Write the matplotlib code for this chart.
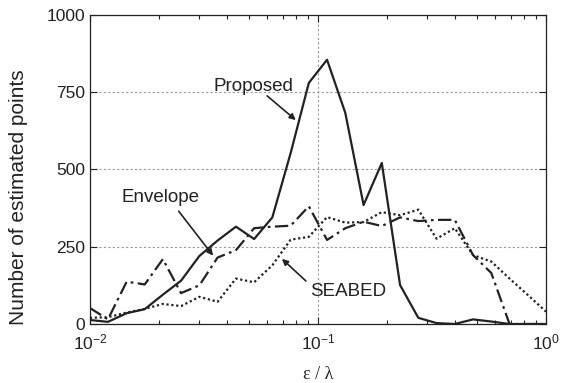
import matplotlib
matplotlib.use("Agg")
import matplotlib.pyplot as plt
from matplotlib.ticker import LogLocator, FixedLocator

plt.rcParams['font.family'] = ['Liberation Sans', 'DejaVu Sans']
plt.rcParams['mathtext.fontset'] = 'custom'
plt.rcParams['mathtext.rm'] = 'Liberation Sans'
plt.rcParams['mathtext.default'] = 'regular'

# eps / lambda sample points (evenly spaced in log)
eps = [0.0100, 0.0120, 0.0145, 0.0174, 0.0209, 0.0251, 0.0302, 0.0363, 0.0437,
       0.0525, 0.0631, 0.0759, 0.0912, 0.1096, 0.1318, 0.1585, 0.1905, 0.2291,
       0.2754, 0.3311, 0.3981, 0.4786, 0.5754, 0.6918, 0.8318, 1.0000]

proposed = [13, 7, 35, 48, 95, 140, 220, 270, 315, 275, 345, 553, 780,
            855, 683, 385, 521, 126, 20, 3, 0, 15, 8, 0, 0, 0]
envelope = [52, 15, 137, 128, 210, 100, 125, 215, 239, 310, 315, 318, 381,
            272, 310, 331, 317, 345, 333, 337, 337, 223, 165, 0, 0, 0]
seabed = [20, 22, 37, 49, 65, 58, 88, 72, 147, 135, 190, 273, 282,
          346, 328, 330, 362, 352, 370, 276, 310, 223, 202, 147, 94, 40]

yticks = [0, 250, 500, 750, 1000]
ink = '#222222'

fig = plt.figure(figsize=(5.76, 3.83), dpi=100)
ax = fig.add_axes([0.156, 0.154, 0.792, 0.807])

ax.plot(eps, proposed, color=ink, lw=1.6, ls='-')
ax.plot(eps, envelope, color=ink, lw=1.6, ls=(0, (6, 2, 1.2, 2)))
ax.plot(eps, seabed, color=ink, lw=1.6, ls=(0, (1, 1.2)))

ax.set_xscale('log')
ax.set_xlim(0.01, 1)
ax.set_ylim(0, 1000)
ax.yaxis.set_major_locator(FixedLocator(yticks))
ax.xaxis.set_major_locator(LogLocator(base=10))
ax.xaxis.set_minor_locator(LogLocator(base=10, subs=range(2, 10)))
ax.xaxis.set_minor_formatter(plt.NullFormatter())

ax.grid(True, which='major', color='#999999', ls=(0, (2, 2)), lw=0.8)
ax.tick_params(which='both', direction='in', top=True, right=True,
               colors=ink, labelsize=12.5, labelcolor=ink)
ax.tick_params(which='major', length=5, width=0.8)
ax.tick_params(which='minor', length=3, width=0.8)
ax.tick_params(axis='x', pad=6)
for s in ax.spines.values():
    s.set_color(ink)
    s.set_linewidth(0.9)

ax.set_xlabel('ε / λ', fontsize=13, color=ink, family=['Liberation Serif'], labelpad=10)
ax.set_ylabel('Number of estimated points', fontsize=15, color=ink)
ax.yaxis.set_label_coords(-0.136, 0.41)

arrow = dict(arrowstyle='-|>', color=ink, lw=1.2, mutation_scale=9)
ax.text(0.0521, 770, 'Proposed', fontsize=13.5, color=ink, ha='center', va='center')
ax.annotate('', xy=(0.0817, 654), xytext=(0.0586, 744), arrowprops=arrow)
ax.text(0.0204, 408, 'Envelope', fontsize=13.5, color=ink, ha='center', va='center')
ax.annotate('', xy=(0.0353, 214), xytext=(0.0241, 372), arrowprops=arrow)
ax.text(0.136, 104, 'SEABED', fontsize=13.5, color=ink, ha='center', va='center')
ax.annotate('', xy=(0.0681, 217), xytext=(0.0904, 133), arrowprops=arrow)

fig.savefig('out.png', dpi=100)
